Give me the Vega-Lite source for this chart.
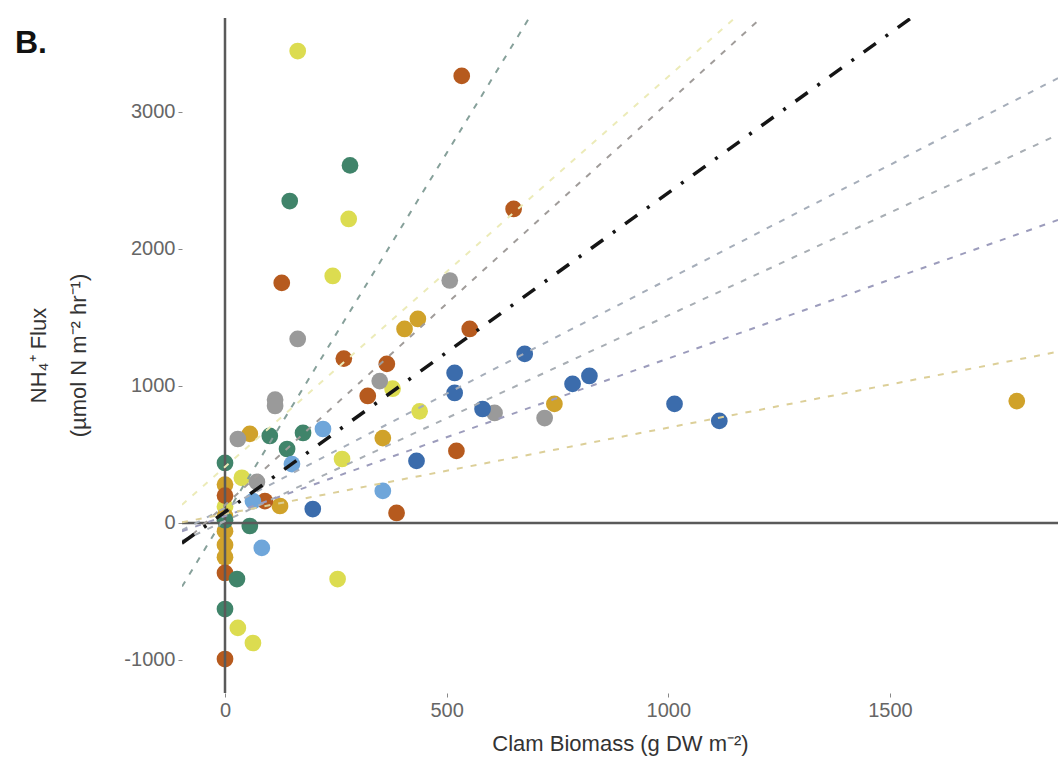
{
  "$schema": "https://vega.github.io/schema/vega-lite/v6.json",
  "autosize": "none",
  "width": 876,
  "height": 675,
  "padding": {"left": 182, "top": 18, "right": 3, "bottom": 79},
  "background": "white",
  "title": {"text": "B.", "anchor": "start", "frame": "group", "font": "Liberation Sans", "fontSize": 32, "fontWeight": "bold", "color": "#111111", "baseline": "alphabetic", "offset": 0, "dx": -167, "dy": 68},
  "config": {"view": {"stroke": null}, "font": "Liberation Sans"},
  "datasets": {
    "points": [
      {"group": "light yellow", "x": 164, "y": 3445},
      {"group": "light yellow", "x": 279, "y": 2219},
      {"group": "light yellow", "x": 243, "y": 1803},
      {"group": "light yellow", "x": 254, "y": -409},
      {"group": "light yellow", "x": 29, "y": -766},
      {"group": "light yellow", "x": 63, "y": -876},
      {"group": "light yellow", "x": 439, "y": 815},
      {"group": "light yellow", "x": 264, "y": 467},
      {"group": "light yellow", "x": 38, "y": 330},
      {"group": "light yellow", "x": 378, "y": 980},
      {"group": "light yellow", "x": 0, "y": 120},
      {"group": "gold", "x": 1786, "y": 890},
      {"group": "gold", "x": 405, "y": 1416},
      {"group": "gold", "x": 435, "y": 1489},
      {"group": "gold", "x": 743, "y": 869},
      {"group": "gold", "x": 356, "y": 620},
      {"group": "gold", "x": 124, "y": 124},
      {"group": "gold", "x": 56, "y": 650},
      {"group": "gold", "x": 0, "y": 280},
      {"group": "gold", "x": 0, "y": 50},
      {"group": "gold", "x": 0, "y": -60},
      {"group": "gold", "x": 0, "y": -160},
      {"group": "gold", "x": 0, "y": -250},
      {"group": "orange", "x": 534, "y": 3263},
      {"group": "orange", "x": 651, "y": 2292},
      {"group": "orange", "x": 128, "y": 1752},
      {"group": "orange", "x": 268, "y": 1200},
      {"group": "orange", "x": 365, "y": 1161},
      {"group": "orange", "x": 552, "y": 1416},
      {"group": "orange", "x": 322, "y": 927},
      {"group": "orange", "x": 522, "y": 526},
      {"group": "orange", "x": 387, "y": 73},
      {"group": "orange", "x": 90, "y": 160},
      {"group": "orange", "x": 0, "y": -365},
      {"group": "orange", "x": 0, "y": -993},
      {"group": "orange", "x": 0, "y": 200},
      {"group": "gray", "x": 507, "y": 1770},
      {"group": "gray", "x": 164, "y": 1343},
      {"group": "gray", "x": 113, "y": 900},
      {"group": "gray", "x": 113, "y": 854},
      {"group": "gray", "x": 349, "y": 1036},
      {"group": "gray", "x": 608, "y": 803},
      {"group": "gray", "x": 721, "y": 766},
      {"group": "gray", "x": 29, "y": 613},
      {"group": "gray", "x": 72, "y": 300},
      {"group": "green", "x": 146, "y": 2350},
      {"group": "green", "x": 282, "y": 2610},
      {"group": "green", "x": 101, "y": 635},
      {"group": "green", "x": 176, "y": 657},
      {"group": "green", "x": 140, "y": 540},
      {"group": "green", "x": 56, "y": -22},
      {"group": "green", "x": 0, "y": 438},
      {"group": "green", "x": 27, "y": -409},
      {"group": "green", "x": 0, "y": -628},
      {"group": "green", "x": 0, "y": 20},
      {"group": "light blue", "x": 83, "y": -182},
      {"group": "light blue", "x": 356, "y": 234},
      {"group": "light blue", "x": 221, "y": 686},
      {"group": "light blue", "x": 151, "y": 430},
      {"group": "light blue", "x": 63, "y": 160},
      {"group": "dark blue", "x": 198, "y": 102},
      {"group": "dark blue", "x": 432, "y": 453},
      {"group": "dark blue", "x": 518, "y": 1095},
      {"group": "dark blue", "x": 518, "y": 949},
      {"group": "dark blue", "x": 676, "y": 1234},
      {"group": "dark blue", "x": 784, "y": 1015},
      {"group": "dark blue", "x": 822, "y": 1073},
      {"group": "dark blue", "x": 1014, "y": 869},
      {"group": "dark blue", "x": 1115, "y": 745},
      {"group": "dark blue", "x": 581, "y": 832}
    ],
    "fits": [
      {"group": "green", "x": -97, "y": -464},
      {"group": "green", "x": 700, "y": 3760},
      {"group": "orange", "x": -97, "y": -154},
      {"group": "orange", "x": 1300, "y": 3953},
      {"group": "light yellow", "x": -97, "y": 133},
      {"group": "light yellow", "x": 1300, "y": 4114},
      {"group": "gray", "x": -97, "y": -53},
      {"group": "gray", "x": 1879, "y": 3247},
      {"group": "light blue", "x": -97, "y": -131},
      {"group": "light blue", "x": 1879, "y": 2834},
      {"group": "dark blue", "x": -97, "y": -61},
      {"group": "dark blue", "x": 1879, "y": 2212},
      {"group": "gold", "x": -97, "y": 5},
      {"group": "gold", "x": 1879, "y": 1250}
    ],
    "overall": [
      {"x": -97, "y": -146},
      {"x": 1600, "y": 3808}
    ],
    "zero": [{"v": 0}]
  },
  "layer": [
    {
      "data": {"name": "points"},
      "mark": {"type": "point", "filled": true, "shape": "circle", "size": 280, "opacity": 1},
      "encoding": {
        "x": {"field": "x", "type": "quantitative", "scale": {"domain": [-97, 1879], "nice": false, "zero": false},
          "axis": {"values": [0, 500, 1000, 1500], "labelExpr": "'' + datum.value", "domain": false, "grid": false, "tickColor": "#888888", "tickSize": 4, "tickWidth": 1, "labelColor": "#666666", "labelFontSize": 20, "labelFont": "Liberation Sans", "labelPadding": 3,
            "title": "Clam Biomass (g DW m⁻²)", "titleFont": "Liberation Sans", "titleFontSize": 22, "titleFontWeight": "normal", "titleColor": "#333333", "titleBaseline": "middle", "titleY": 50}},
        "y": {"field": "y", "type": "quantitative", "scale": {"domain": [-1241, 3686], "nice": false, "zero": false},
          "axis": {"values": [-1000, 0, 1000, 2000, 3000], "labelExpr": "'' + datum.value", "domain": false, "grid": false, "tickColor": "#888888", "tickSize": 4, "tickWidth": 1, "labelColor": "#666666", "labelFontSize": 20, "labelFont": "Liberation Sans", "labelPadding": 3,
            "title": ["NH₄⁺ Flux", "(µmol N m⁻² hr⁻¹)"], "titleFont": "Liberation Sans", "titleFontSize": 22, "titleFontWeight": "normal", "titleColor": "#333333", "titleAngle": -90, "titleBaseline": "middle", "titleAlign": "center", "titleLineHeight": 40, "titleX": -144, "titleY": 337}},
        "color": {"field": "group", "type": "nominal", "legend": null,
          "scale": {"domain": ["dark blue", "light blue", "orange", "gold", "light yellow", "gray", "green"],
                    "range": ["#3b6cac", "#6fa6da", "#b65a1e", "#d0a22a", "#dcdc50", "#9a9a9a", "#40846a"]}}
      }
    },
    {
      "data": {"name": "zero"},
      "mark": {"type": "rule", "color": "#5a5a5a", "strokeWidth": 2.5},
      "encoding": {"x": {"field": "v", "type": "quantitative"}}
    },
    {
      "data": {"name": "zero"},
      "mark": {"type": "rule", "color": "#5a5a5a", "strokeWidth": 2.5},
      "encoding": {"y": {"field": "v", "type": "quantitative"}}
    },
    {
      "data": {"name": "fits"},
      "mark": {"type": "line", "strokeWidth": 2, "strokeDash": [6, 8], "clip": true},
      "encoding": {
        "x": {"field": "x", "type": "quantitative"},
        "y": {"field": "y", "type": "quantitative"},
        "detail": {"field": "group", "type": "nominal"},
        "color": {"field": "group", "type": "nominal", "legend": null,
          "scale": {"domain": ["dark blue", "light blue", "orange", "gold", "light yellow", "gray", "green"],
                    "range": ["#9c9cbc", "#a8aeb4", "#a09c9a", "#dccf98", "#ecebb8", "#a6aeba", "#86a09a"]}}
      }
    },
    {
      "data": {"name": "overall"},
      "mark": {"type": "line", "color": "#151515", "strokeWidth": 3.5, "strokeDash": [15, 12, 3, 12], "clip": true},
      "encoding": {
        "x": {"field": "x", "type": "quantitative"},
        "y": {"field": "y", "type": "quantitative"}
      }
    }
  ],
  "resolve": {"scale": {"color": "independent"}}
}
